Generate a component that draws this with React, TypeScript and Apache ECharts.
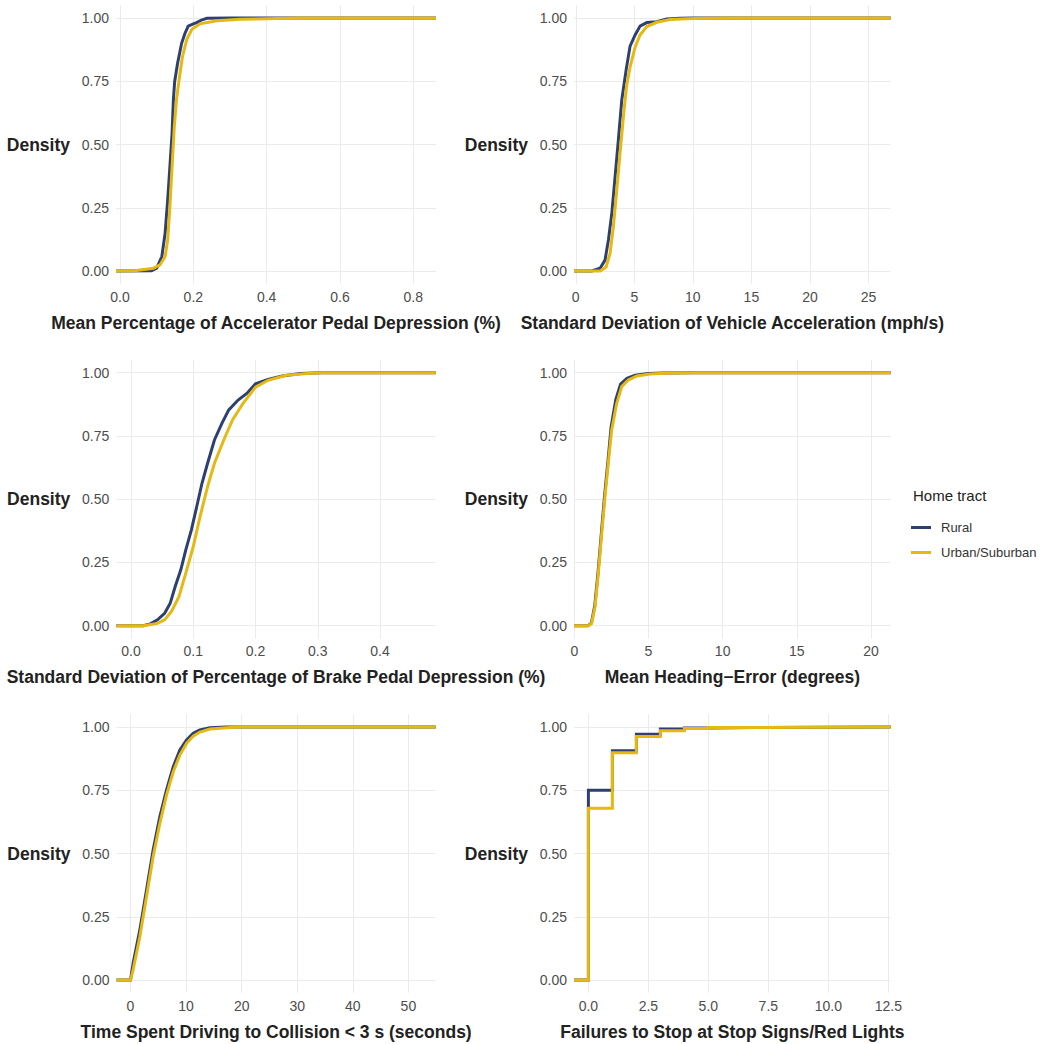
import React, { useEffect, useRef } from "react";
import * as echarts from "echarts";

// ---------- data ----------
const groups = ["Rural", "Urban/Suburban"];
const yTicks = [0, 0.25, 0.5, 0.75, 1];

const accelTitle = "Mean Percentage of Accelerator Pedal Depression (%)";
const accelTicks = [0, 0.2, 0.4, 0.6, 0.8];
const accelExtent = [-0.011, 0.862];
const accelRural = [
  [0.086, 0.001], [0.1, 0.011], [0.114, 0.057], [0.123, 0.149], [0.13, 0.281],
  [0.136, 0.412], [0.142, 0.544], [0.1455, 0.676], [0.149, 0.748], [0.157, 0.821],
  [0.168, 0.9], [0.177, 0.939], [0.186, 0.968], [0.2, 0.977], [0.209, 0.982],
  [0.222, 0.992], [0.237, 0.999], [0.3, 1.0],
];
const accelUrban = [
  [0.04, 0.001], [0.055, 0.004], [0.091, 0.011], [0.109, 0.024], [0.123, 0.057],
  [0.13, 0.123], [0.136, 0.254], [0.142, 0.412], [0.148, 0.57], [0.154, 0.676],
  [0.161, 0.755], [0.17, 0.845], [0.182, 0.915], [0.196, 0.955], [0.218, 0.977],
  [0.264, 0.989], [0.327, 0.995], [0.4, 0.997], [0.49, 1.0],
];

const sdAccelTitle = "Standard Deviation of Vehicle Acceleration (mph/s)";
const sdAccelTicks = [0, 5, 10, 15, 20, 25];
const sdAccelExtent = [-0.15, 26.9];
const sdAccelRural = [
  [1.37, 0], [2.08, 0.011], [2.5, 0.043], [2.79, 0.123], [3.08, 0.228],
  [3.36, 0.373], [3.64, 0.518], [3.93, 0.676], [4.3, 0.794], [4.64, 0.889],
  [5.07, 0.933], [5.49, 0.968], [6.07, 0.982], [6.92, 0.985], [7.77, 0.996],
  [8.91, 0.999], [10.05, 1.0],
];
const sdAccelUrban = [
  [2.08, 0], [2.59, 0.016], [2.93, 0.069], [3.21, 0.174], [3.5, 0.319],
  [3.78, 0.464], [4.07, 0.609], [4.33, 0.727], [4.64, 0.806], [5.07, 0.885],
  [5.49, 0.933], [6.07, 0.966], [6.92, 0.983], [8.06, 0.994], [9.48, 0.997],
  [11.19, 0.999], [13.76, 1.0],
];

const brakeTitle = "Standard Deviation of Percentage of Brake Pedal Depression (%)";
const brakeTicks = [0, 0.1, 0.2, 0.3, 0.4];
const brakeExtent = [-0.0236, 0.4895];
const brakeRural = [
  [0.0195, 0], [0.031, 0.007], [0.0425, 0.023], [0.054, 0.049], [0.063, 0.089],
  [0.071, 0.155], [0.08, 0.221], [0.088, 0.3], [0.097, 0.379], [0.1056, 0.471],
  [0.114, 0.563], [0.123, 0.642], [0.134, 0.734], [0.146, 0.8], [0.157, 0.853],
  [0.172, 0.892], [0.186, 0.918], [0.2, 0.956], [0.22, 0.973], [0.243, 0.987],
  [0.272, 0.997], [0.306, 1.0],
];
const brakeUrban = [
  [0.02, 0], [0.0425, 0.009], [0.054, 0.023], [0.065, 0.056], [0.077, 0.115],
  [0.088, 0.208], [0.1, 0.313], [0.111, 0.432], [0.123, 0.55], [0.134, 0.642],
  [0.149, 0.734], [0.163, 0.813], [0.18, 0.879], [0.2, 0.943], [0.22, 0.97],
  [0.249, 0.99], [0.278, 0.996], [0.306, 1.0],
];

const headingTitle = "Mean Heading\u2212Error (degrees)";
const headingTicks = [0, 5, 10, 15, 20];
const headingExtent = [-0.02, 21.33];
const headingRural = [
  [0.92, 0], [1.15, 0.01], [1.38, 0.08], [1.6, 0.21], [1.83, 0.37],
  [2.05, 0.52], [2.27, 0.65], [2.48, 0.785], [2.8, 0.895], [3.12, 0.955],
  [3.55, 0.978], [4.1, 0.99], [5.0, 0.997], [6.0, 0.999], [8.0, 1.0],
];
const headingUrban = [
  [0.95, 0], [1.17, 0.009], [1.4, 0.075], [1.62, 0.207], [1.85, 0.365],
  [2.07, 0.51], [2.29, 0.642], [2.52, 0.774], [2.86, 0.879], [3.2, 0.945],
  [3.64, 0.971], [4.21, 0.987], [5.1, 0.995], [6.45, 0.999], [8.7, 1.0],
];

const ttcTitle = "Time Spent Driving to Collision < 3 s (seconds)";
const ttcTicks = [0, 10, 20, 30, 40, 50];
const ttcExtent = [-2.52, 54.93];
const ttcRural = [
  [0, 0], [0.47, 0.066], [1.68, 0.198], [2.88, 0.356], [4.07, 0.514],
  [5.28, 0.646], [6.48, 0.751], [7.69, 0.843], [8.88, 0.909], [10.08, 0.949],
  [11.28, 0.975], [12.48, 0.988], [14.28, 0.997], [17.28, 1.0],
];
const ttcUrban = [
  [0, 0], [0.47, 0.04], [1.68, 0.171], [2.88, 0.329], [4.07, 0.487],
  [5.28, 0.619], [6.48, 0.731], [7.69, 0.823], [8.88, 0.889], [10.08, 0.935],
  [11.28, 0.964], [12.48, 0.98], [14.28, 0.992], [17.28, 0.997], [19.68, 1.0],
];

const failTitle = "Failures to Stop at Stop Signs/Red Lights";
const failTicks = [0, 2.5, 5, 7.5, 10, 12.5];
const failExtent = [-0.6, 12.6];
const failRural = [
  [0, 0.75], [1, 0.906], [2, 0.971], [3, 0.992], [4, 0.996], [5, 0.998], [7, 1.0],
];
const failUrban = [
  [0, 0.679], [1, 0.898], [2, 0.962], [3, 0.985], [4, 0.994], [5, 0.998], [6, 1.0],
];

// ---------- layout / style ----------
const COLORS = ["#2e4070", "#e5b812"];
const FONT = "'Liberation Sans', Arial, Helvetica, sans-serif";
const TITLE_COLOR = "#222222";
const LABEL_COLOR = "#4d4d4d";
const GRID_COLOR = "#ebebeb";

const panels = [
  { title: accelTitle, ticks: accelTicks, ext: accelExtent, rural: accelRural, urban: accelUrban, dec: 1, step: false },
  { title: sdAccelTitle, ticks: sdAccelTicks, ext: sdAccelExtent, rural: sdAccelRural, urban: sdAccelUrban, dec: 0, step: false },
  { title: brakeTitle, ticks: brakeTicks, ext: brakeExtent, rural: brakeRural, urban: brakeUrban, dec: 1, step: false },
  { title: headingTitle, ticks: headingTicks, ext: headingExtent, rural: headingRural, urban: headingUrban, dec: 0, step: false },
  { title: ttcTitle, ticks: ttcTicks, ext: ttcExtent, rural: ttcRural, urban: ttcUrban, dec: 0, step: false },
  { title: failTitle, ticks: failTicks, ext: failExtent, rural: failRural, urban: failUrban, dec: 1, step: true },
];

const ROW_TOPS = [5.35, 360.05, 714.35];
const PANEL_H = 278.3;
const boxes = [
  { left: 116, width: 320 },
  { left: 574, width: 316.7 },
  { left: 116.3, width: 319.5 },
  { left: 574, width: 316.7 },
  { left: 116.5, width: 319.3 },
  { left: 574, width: 316.7 },
];

function buildOption() {
  const grid: any[] = [];
  const xAxis: any[] = [];
  const yAxis: any[] = [];
  const series: any[] = [];

  panels.forEach((p, i) => {
    const b = boxes[i];
    grid.push({
      left: b.left,
      top: ROW_TOPS[Math.floor(i / 2)],
      width: b.width,
      height: PANEL_H,
      containLabel: false,
      outerBoundsMode: "none",
    });
    xAxis.push({
      type: "value",
      gridIndex: i,
      min: p.ext[0],
      max: p.ext[1],
      name: p.title,
      nameLocation: "middle",
      nameGap: 39,
      nameMoveOverlap: false,
      nameTextStyle: {
        fontFamily: FONT,
        fontSize: 17.5,
        fontWeight: "bold",
        color: TITLE_COLOR,
        verticalAlign: "middle",
        align: "center",
      },
      axisLine: { show: false },
      axisTick: { show: false, customValues: p.ticks },
      axisLabel: {
        customValues: p.ticks,
        margin: 6,
        fontFamily: FONT,
        fontSize: 14,
        color: LABEL_COLOR,
        formatter: (v: number) => v.toFixed(p.dec),
      },
      splitLine: { show: true, lineStyle: { color: GRID_COLOR, width: 1 } },
      minorSplitLine: { show: false },
    });
    yAxis.push({
      type: "value",
      gridIndex: i,
      min: -0.05,
      max: 1.05,
      name: "Density",
      nameLocation: "middle",
      nameRotate: 0,
      nameGap: 46,
      nameMoveOverlap: false,
      nameTextStyle: {
        fontFamily: FONT,
        fontSize: 17.5,
        fontWeight: "bold",
        color: TITLE_COLOR,
        align: "right",
        verticalAlign: "middle",
      },
      axisLine: { show: false },
      axisTick: { show: false, customValues: yTicks },
      axisLabel: {
        customValues: yTicks,
        margin: 7,
        fontFamily: FONT,
        fontSize: 14,
        color: LABEL_COLOR,
        formatter: (v: number) => v.toFixed(2),
      },
      splitLine: { show: true, lineStyle: { color: GRID_COLOR, width: 1 } },
    });

    const padded = (pts: number[][]) => [[p.ext[0], 0], ...pts, [p.ext[1], 1]];
    [p.rural, p.urban].forEach((pts, g) => {
      series.push({
        type: "line",
        name: groups[g],
        xAxisIndex: i,
        yAxisIndex: i,
        data: padded(pts),
        step: p.step ? "end" : false,
        symbol: "none",
        showSymbol: false,
        smooth: false,
        clip: true,
        lineStyle: { color: COLORS[g], width: 3, cap: "butt", join: "miter" },
        itemStyle: { color: COLORS[g] },
        emphasis: { disabled: true },
        z: 2 + g,
      });
    });
  });

  return {
    animation: false,
    backgroundColor: "#ffffff",
    textStyle: { fontFamily: FONT },
    grid,
    xAxis,
    yAxis,
    series,
    legend: {
      orient: "vertical",
      left: 911,
      top: 520,
      padding: 0,
      itemWidth: 20,
      itemHeight: 3,
      itemGap: 10,
      selectedMode: false,
      data: groups.map((name, g) => ({
        name,
        icon: "rect",
        itemStyle: { color: COLORS[g], borderWidth: 0 },
      })),
      textStyle: { fontFamily: FONT, fontSize: 13, color: "#333333", padding: [0, 0, 0, 5], lineHeight: 15 },
    },
    graphic: [
      {
        type: "text",
        left: 913,
        top: 488,
        style: {
          text: "Home tract",
          fontFamily: FONT,
          fontSize: 15,
          fill: TITLE_COLOR,
        },
      },
    ],
  };
}

export default function App() {
  const ref = useRef<HTMLDivElement>(null);
  useEffect(() => {
    if (!ref.current) return;
    const chart = echarts.init(ref.current, undefined, { renderer: "svg" });
    chart.setOption(buildOption() as any);
    return () => chart.dispose();
  }, []);
  return (
    <div
      ref={ref}
      style={{ position: "absolute", left: 0, top: 0, width: 1048, height: 1044, background: "#fff" }}
    />
  );
}
